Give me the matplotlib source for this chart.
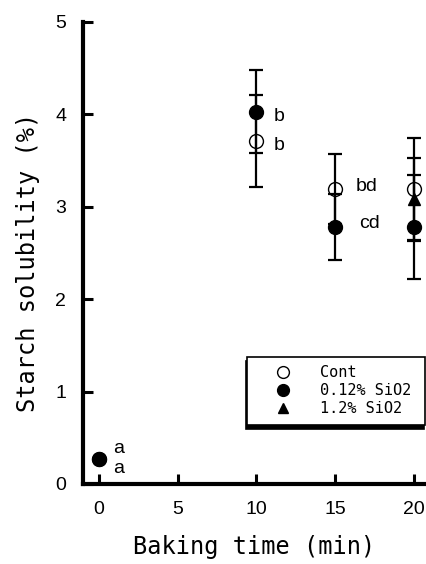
import matplotlib
matplotlib.use("Agg")
import matplotlib.pyplot as plt

# baking time (min)
x_cont = [0, 10, 15, 20]
x_si012 = [0, 10, 15, 20]
x_si12 = [20]

# starch solubility (%) and error
y_cont = [0.27, 3.71, 3.19, 3.19]
e_cont = [0.0, 0.50, 0.38, 0.55]
y_si012 = [0.27, 4.03, 2.78, 2.78]
e_si012 = [0.0, 0.45, 0.36, 0.56]
y_si12 = [3.08]
e_si12 = [0.45]

# significance letters (x, y, text)
letters = [(0.9, 0.38, "a"), (0.9, 0.17, "a"),
           (11.1, 3.98, "b"), (11.1, 3.66, "b"),
           (16.3, 3.22, "bd"), (16.5, 2.82, "cd")]

mono = "DejaVu Sans Mono"
sans = "Liberation Sans"

fig = plt.figure(figsize=(4.27, 5.64), dpi=100)
ax = fig.add_axes([0.194, 0.142, 0.806, 0.819])

eb = dict(fmt="none", ecolor="black", elinewidth=1.6, capsize=5, capthick=1.6)
ax.errorbar(x_cont, y_cont, yerr=e_cont, **eb)
ax.errorbar(x_si012, y_si012, yerr=e_si012, **eb)
ax.errorbar(x_si12, y_si12, yerr=e_si12, **eb)

ax.plot(x_cont, y_cont, "o", ms=10, mfc="none", mec="black", mew=1.0,
        ls="none", label="Cont", zorder=3)
ax.plot(x_si012, y_si012, "o", ms=10, color="black", ls="none",
        label="0.12% SiO2", zorder=3)
ax.plot(x_si12, y_si12, "^", ms=9, color="black", ls="none",
        label="1.2% SiO2", zorder=4)

for lx, ly, t in letters:
    ax.text(lx, ly, t, ha="left", va="center", fontsize=14, family=sans)

ax.set_xlim(-1, 20.8)
ax.set_ylim(0, 5)
ax.set_xticks([0, 5, 10, 15, 20])
ax.set_yticks([0, 1, 2, 3, 4, 5])

for s in ["top", "right"]:
    ax.spines[s].set_visible(False)
for s in ["left", "bottom"]:
    ax.spines[s].set_linewidth(3)

ax.tick_params(direction="in", length=7, width=2.2, labelsize=14, pad=12)
for lab in ax.get_xticklabels() + ax.get_yticklabels():
    lab.set_family(sans)

ax.set_xlabel("Baking time (min)", fontsize=17, family=mono)
ax.set_ylabel("Starch solubility (%)", fontsize=17, family=mono)
ax.xaxis.set_label_coords(0.497, -0.11)
ax.xaxis.label.set_va("top")
ax.yaxis.set_label_coords(-0.125, 0.48)

leg = ax.legend(loc="lower left", bbox_to_anchor=(0.477, 0.128, 0.517, 0.156),
                mode="expand", borderaxespad=0, frameon=True, fancybox=False,
                framealpha=1, edgecolor="black",
                shadow={"color": "black", "alpha": 1, "ox": -1, "oy": -3},
                prop={"family": mono, "size": 11}, handlelength=3.6,
                handletextpad=0.6, labelspacing=0.2, borderpad=0.55,
                markerscale=0.85)
leg.get_frame().set_linewidth(1.2)

fig.savefig("out.png", dpi=100)
